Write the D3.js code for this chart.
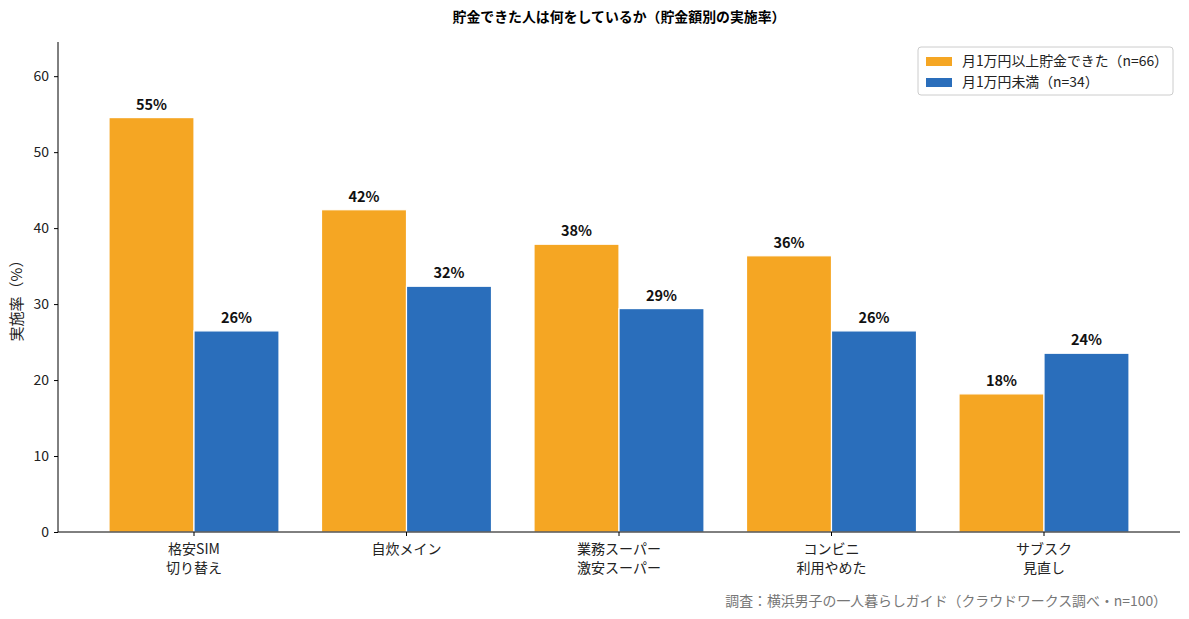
<!DOCTYPE html>
<html>
<head>
<meta charset="utf-8">
<script src="https://cdn.jsdelivr.net/npm/d3@7"></script>
<style>
  body { margin: 0; background: #fff; }
  text { font-family: "Noto Sans CJK JP", "Noto Sans", sans-serif; }
</style>
</head>
<body>
<div id="container"></div>
<script>
/* DATA */
const categories = ["格安SIM\n切り替え", "自炊メイン", "業務スーパー\n激安スーパー", "コンビニ\n利用やめた", "サブスク\n見直し"];
const seriesNames = ["月1万円以上貯金できた（n=66）", "月1万円未満（n=34）"];
const savedValues = [54.55, 42.42, 37.88, 36.36, 18.18];
const notSavedValues = [26.47, 32.35, 29.41, 26.47, 23.53];
const yTicks = [0, 10, 20, 30, 40, 50, 60];
const colors = ["#F5A623", "#2A6EBB"];

/* CONSTANTS */
const width = 1189, height = 619,
  margin = { top: 42, bottom: 87, left: 58, right: 9 };

const svg = d3.select("#container")
  .append("svg")
  .attr("width", width)
  .attr("height", height);

/* SCALES */
const xScale = d3.scaleBand()
  .domain(categories)
  .range([margin.left, width - margin.right])
  .paddingInner(0.2)
  .paddingOuter(0.24);

const xSub = d3.scaleBand()
  .domain([0, 1])
  .range([0, xScale.bandwidth()]);

const yScale = d3.scaleLinear()
  .domain([0, 64.5])
  .range([height - margin.bottom, margin.top]);

/* TITLE */
svg.append("text")
  .attr("x", (margin.left + width - margin.right) / 2)
  .attr("y", 22)
  .attr("text-anchor", "middle")
  .attr("font-size", 13.9)
  .attr("font-weight", "bold")
  .text("貯金できた人は何をしているか（貯金額別の実施率）");

/* BARS */
const series = [savedValues, notSavedValues];
const rows = [];
series.forEach((vals, s) => vals.forEach((v, i) => rows.push({ s, cat: categories[i], v })));

svg.append("g").selectAll("rect")
  .data(rows)
  .join("rect")
  .attr("x", d => xScale(d.cat) + xSub(d.s))
  .attr("y", d => yScale(d.v))
  .attr("width", xSub.bandwidth())
  .attr("height", d => yScale(0) - yScale(d.v))
  .attr("fill", d => colors[d.s])
  .attr("stroke", "#fff")
  .attr("stroke-width", 1.2);

svg.append("g").selectAll("text")
  .data(rows)
  .join("text")
  .attr("x", d => xScale(d.cat) + xSub(d.s) + xSub.bandwidth() / 2)
  .attr("y", d => yScale(d.v) - 8)
  .attr("text-anchor", "middle")
  .attr("font-size", 14.5)
  .attr("font-weight", "bold")
  .attr("fill", "#111")
  .text(d => Math.round(d.v) + "%");

/* AXES */
const yAxis = d3.axisLeft(yScale).tickValues(yTicks).tickSize(4).tickPadding(5);
const gy = svg.append("g")
  .attr("transform", `translate(${margin.left},0)`)
  .call(yAxis);
gy.select(".domain").attr("d", `M0,${yScale(0)}V${margin.top}`);
gy.selectAll("text").attr("font-size", 14).attr("fill", "#222")
  .style("font-family", '"Noto Sans CJK JP", sans-serif');

const xAxis = d3.axisBottom(xScale).tickSize(4).tickFormat("");
const gx = svg.append("g")
  .attr("transform", `translate(0,${yScale(0)})`)
  .call(xAxis);
gx.select(".domain").attr("d", `M${margin.left},0H${width - margin.right}`);

// two-line category labels as separate text lines
gx.selectAll(".tick").each(function (d) {
  const tick = d3.select(this);
  d.split("\n").forEach((line, i) => {
    tick.append("text")
      .attr("text-anchor", "middle")
      .attr("fill", "#222")
      .attr("font-size", 14)
      .attr("x", 0)
      .attr("y", 22 + i * 18.5)
      .text(line);
  });
});

/* Y LABEL */
svg.append("text")
  .attr("transform", `translate(22,${(margin.top + yScale(0)) / 2 + 10}) rotate(-90)`)
  .attr("text-anchor", "middle")
  .attr("font-size", 15)
  .attr("fill", "#222")
  .text("実施率（%）");

/* LEGEND */
const legend = svg.append("g").attr("transform", "translate(918,47)");
legend.append("rect")
  .attr("width", 255).attr("height", 48)
  .attr("rx", 3)
  .attr("fill", "#fff")
  .attr("stroke", "#ccc");
seriesNames.forEach((name, i) => {
  legend.append("rect")
    .attr("x", 8).attr("y", 10 + i * 21)
    .attr("width", 26).attr("height", 9)
    .attr("fill", colors[i]);
  legend.append("text")
    .attr("x", 44).attr("y", 19 + i * 21)
    .attr("font-size", 13.9)
    .attr("fill", "#222")
    .text(name);
});

/* SOURCE NOTE */
svg.append("text")
  .attr("x", 1167)
  .attr("y", 606)
  .attr("text-anchor", "end")
  .attr("font-size", 13.9)
  .attr("fill", "#777")
  .text("調査：横浜男子の一人暮らしガイド（クラウドワークス調べ・n=100）");
</script>
</body>
</html>
